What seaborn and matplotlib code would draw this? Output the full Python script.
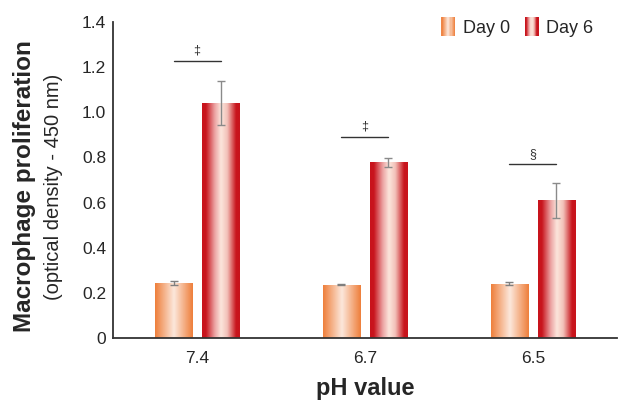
import numpy as np
import pandas as pd
import matplotlib
matplotlib.use("Agg")
import matplotlib.pyplot as plt
import seaborn as sns
from matplotlib.colors import LinearSegmentedColormap
from matplotlib.patches import Rectangle
from matplotlib.legend_handler import HandlerBase

ph_labels = ["7.4", "6.7", "6.5"]
days = ["Day 0", "Day 6"]
day0_mean = [0.244, 0.237, 0.241]
day0_err = [0.010, 0.003, 0.008]
day6_mean = [1.04, 0.778, 0.61]
day6_err = [0.097, 0.020, 0.077]
sig_symbols = ["‡", "‡", "§"]
sig_heights = [1.227, 0.89, 0.77]

sns.set_style("white")
plt.rcParams["font.family"] = ["Liberation Sans", "DejaVu Sans"]

df = pd.DataFrame({
    "pH": ph_labels * 2,
    "day": [days[0]] * 3 + [days[1]] * 3,
    "value": day0_mean + day6_mean,
})

edge_cols = {"Day 0": "#EE7E3A", "Day 6": "#C8141C"}
center_cols = {"Day 0": "#FCE8DC", "Day 6": "#FCE6DC"}

def make_cmap(day):
    e, c = edge_cols[day], center_cols[day]
    if day == "Day 6":
        return LinearSegmentedColormap.from_list(day, [(0, e), (0.1, e), (0.33, "#EBA0A0"), (0.5, c), (0.67, "#F2C0B8"), (0.9, e), (1, e)])
    return LinearSegmentedColormap.from_list(day, [(0, e), (0.5, c), (1, e)])

cmaps = {d: make_cmap(d) for d in days}

fig = plt.figure(figsize=(6.18, 4.01), dpi=100)
ax = fig.add_axes([0.183, 0.157, 0.815, 0.788])

sns.barplot(data=df, x="pH", y="value", hue="day", order=ph_labels, hue_order=days,
            palette=edge_cols, width=0.56, gap=0.2, errorbar=None, ax=ax, legend=False,
            linewidth=0)

grad = np.linspace(0, 1, 256).reshape(1, -1)
bars = list(ax.patches)
for i, p in enumerate(bars):
    day = days[i // 3]
    x0, y0 = p.get_x(), p.get_y()
    w, h = p.get_width(), p.get_height()
    im = ax.imshow(grad, cmap=cmaps[day], aspect="auto", extent=[x0, x0 + w, y0, y0 + h],
                   zorder=p.get_zorder() + 0.1, interpolation="bicubic")
    im.set_clip_path(p)
    p.set_facecolor("none")

centers0 = [bars[i].get_x() + bars[i].get_width() / 2 for i in range(3)]
centers6 = [bars[i + 3].get_x() + bars[i + 3].get_width() / 2 for i in range(3)]
ax.errorbar(centers0, day0_mean, yerr=day0_err, fmt="none", ecolor="#7f7f7f",
            elinewidth=1, capsize=3, capthick=1, zorder=5)
ax.errorbar(centers6, day6_mean, yerr=day6_err, fmt="none", ecolor="#8a8a8a",
            elinewidth=1, capsize=3, capthick=1, zorder=5)

for i in range(3):
    ax.plot([centers0[i], centers6[i]], [sig_heights[i]] * 2, color="#333333", lw=1)
    ax.text((centers0[i] + centers6[i]) / 2, sig_heights[i] + 0.02, sig_symbols[i],
            ha="center", va="bottom", fontsize=9, color="#333333")

ax.set_xlim(-0.5, 2.5)
ax.set_ylim(0, 1.4)
ax.set_yticks(np.arange(0, 1.41, 0.2))
ax.set_yticklabels(["0"] + [f"{v:.1f}" for v in np.arange(0.2, 1.41, 0.2)])
ax.set_xticks([0.5, 1.5, 2.5], minor=False)
ax.set_xticks(range(3), minor=True)
ax.set_xticklabels(["", "", ""])
ax.set_xticklabels(ph_labels, minor=True)
ax.tick_params(axis="x", which="major", direction="in", length=4, width=1.2, color="#333333")
ax.tick_params(axis="x", which="minor", length=0, labelsize=12.5, pad=9)
ax.tick_params(axis="y", direction="in", length=4, width=1.2, color="#333333", labelsize=12.5, pad=5)
for s in ["top", "right"]:
    ax.spines[s].set_visible(False)
for s in ["left", "bottom"]:
    ax.spines[s].set_color("#333333")
    ax.spines[s].set_linewidth(1.3)

ax.set_xlabel("pH value", fontsize=17, fontweight="bold", labelpad=8)
ax.set_ylabel("")
fig.text(0.040, 0.535, "Macrophage proliferation", rotation=90, ha="center", va="center",
         fontsize=17.5, fontweight="bold")
fig.text(0.087, 0.535, "(optical density - 450 nm)", rotation=90, ha="center", va="center",
         fontsize=14.5)

class GradHandler(HandlerBase):
    def __init__(self, cmap):
        super().__init__()
        self.cmap = cmap
    def create_artists(self, legend, orig_handle, xdescent, ydescent, width, height, fontsize, trans):
        n = 12
        arts = []
        for k in range(n):
            r = Rectangle((-xdescent + width * k / n, -ydescent - 1), width / n + 0.3, height + 2,
                          facecolor=self.cmap((k + 0.5) / n), edgecolor="none", transform=trans)
            arts.append(r)
        return arts

h0 = Rectangle((0, 0), 1, 1)
h6 = Rectangle((0, 0), 1, 1)
ax.legend([h0, h6], days, handler_map={h0: GradHandler(cmaps["Day 0"]), h6: GradHandler(cmaps["Day 6"])},
          loc="upper right", bbox_to_anchor=(0.986, 1.062), ncol=2, frameon=False, fontsize=13,
          handlelength=0.75, handleheight=1.0, handletextpad=0.45, columnspacing=0.8)

fig.savefig("out.png", dpi=100)
